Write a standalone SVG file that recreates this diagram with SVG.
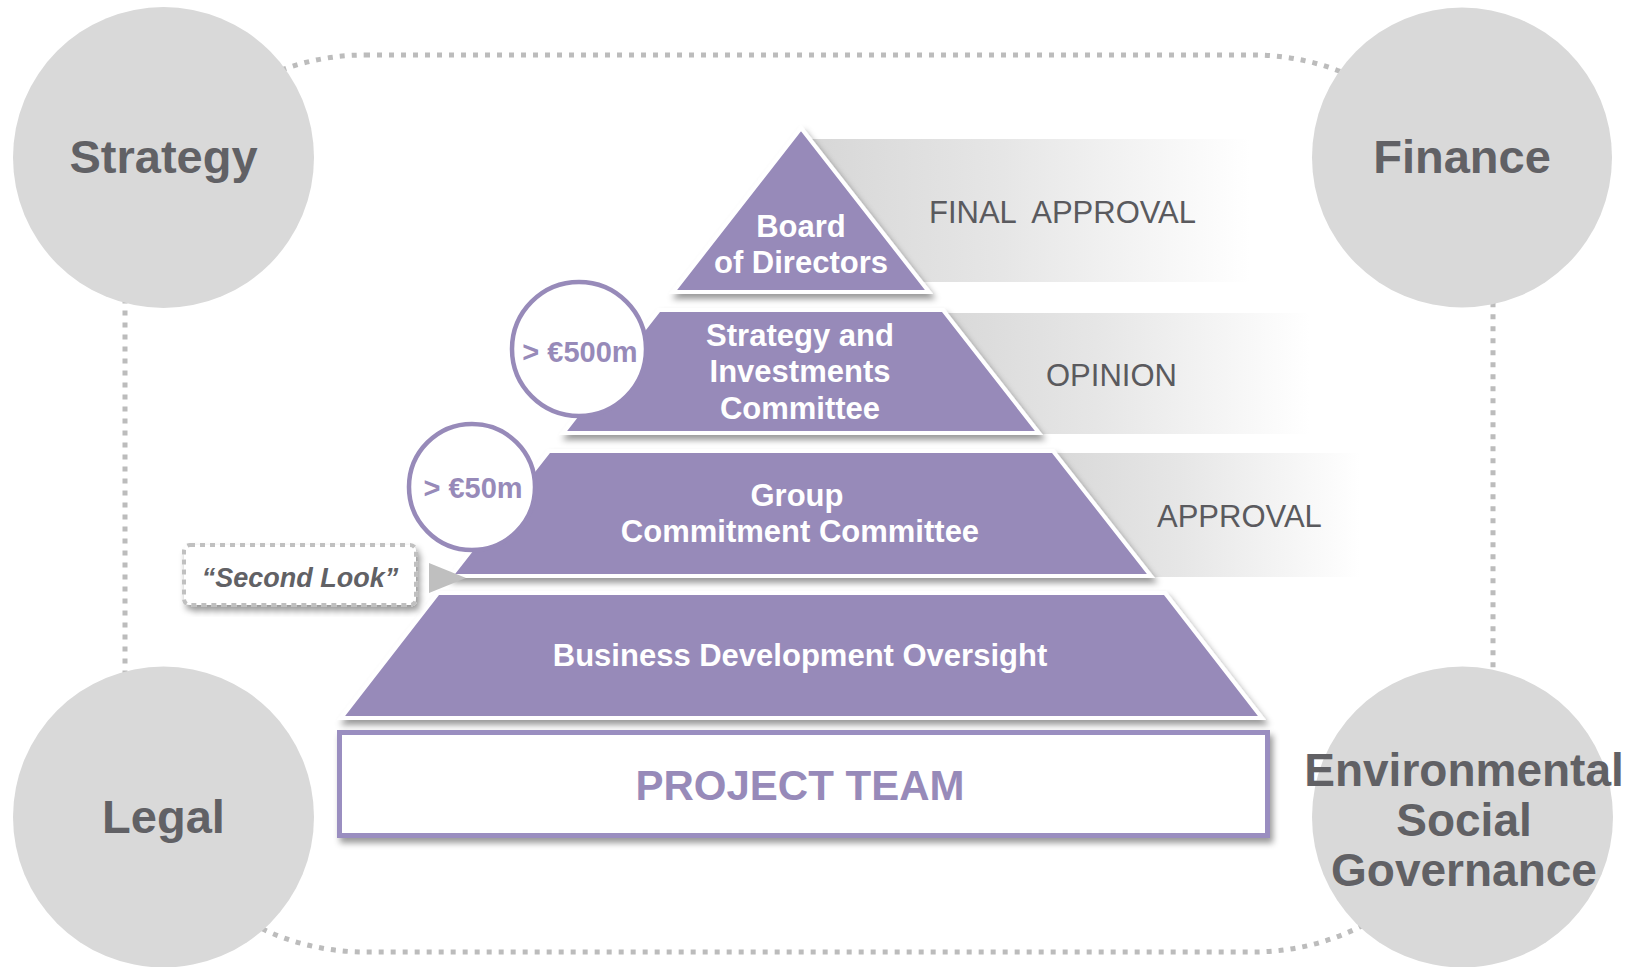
<svg xmlns="http://www.w3.org/2000/svg" width="1636" height="967" viewBox="0 0 1636 967">
<defs>
<style>
.frame{fill:none;stroke:#bcbcbc;stroke-width:5;stroke-dasharray:5 7}
.bigc{fill:#d9d9d9}
.bigt{font-family:"Liberation Sans",Arial,sans-serif;font-weight:bold;font-size:47px;fill:#616165;text-anchor:middle}
.esgt{font-family:"Liberation Sans",Arial,sans-serif;font-weight:bold;font-size:46px;fill:#616165;text-anchor:middle}
.layer{fill:#978ab9;stroke:#ffffff;stroke-width:4;stroke-linejoin:miter;filter:url(#sh)}
.lt{font-family:"Liberation Sans",Arial,sans-serif;font-weight:bold;font-size:31px;fill:#ffffff;text-anchor:middle}
.bt{font-family:"Liberation Sans",Arial,sans-serif;font-size:31px;fill:#5a5a5e}
.thr{fill:#ffffff;stroke:#978ab9;stroke-width:4.5}
.tht{font-family:"Liberation Sans",Arial,sans-serif;font-weight:bold;font-size:29px;fill:#978ab9;text-anchor:middle}
</style>
<linearGradient id="band" x1="0" y1="0" x2="1" y2="0">
<stop offset="0" stop-color="#d6d6d6"/>
<stop offset="0.45" stop-color="#e6e6e6"/>
<stop offset="1" stop-color="#ffffff"/>
</linearGradient>
<filter id="sh" x="-10%" y="-10%" width="120%" height="130%">
<feDropShadow dx="3" dy="5" stdDeviation="3" flood-color="#000000" flood-opacity="0.4"/>
</filter>
</defs>
<rect width="1636" height="967" fill="#ffffff"/>

<g id="frame">
<rect class="frame" x="125" y="55" width="1368" height="897" rx="240" ry="240"/>
</g>

<g id="strategy">
<circle class="bigc" cx="163.5" cy="157.5" r="150.5"/>
<text class="bigt" x="163.5" y="173">Strategy</text>
</g>
<g id="finance">
<circle class="bigc" cx="1462" cy="157.5" r="150"/>
<text class="bigt" x="1462" y="173">Finance</text>
</g>
<g id="legal">
<circle class="bigc" cx="163.5" cy="817" r="150.5"/>
<text class="bigt" x="163.5" y="833">Legal</text>
</g>
<g id="esg">
<circle class="bigc" cx="1462.5" cy="817" r="150.5"/>
<text class="esgt" x="1464" y="786">Environmental</text>
<text class="esgt" x="1464" y="836">Social</text>
<text class="esgt" x="1464" y="886">Governance</text>
</g>

<g id="band-final">
<rect x="800" y="139" width="450" height="143" fill="url(#band)"/>
<text class="bt" x="929" y="223" xml:space="preserve">FINAL  APPROVAL</text>
</g>
<g id="band-opinion">
<rect x="920" y="313" width="390" height="121" fill="url(#band)"/>
<text class="bt" x="1046" y="386">OPINION</text>
</g>
<g id="band-approval">
<rect x="1030" y="453" width="330" height="124" fill="url(#band)"/>
<text class="bt" x="1157" y="527">APPROVAL</text>
</g>

<g id="board">
<polygon class="layer" points="801,128 929,292 673,292"/>
<text class="lt" x="801" y="237">Board</text>
<text class="lt" x="801" y="273">of Directors</text>
</g>
<g id="sic">
<polygon class="layer" points="659,310 943,310 1039,433 563,433"/>
<text class="lt" x="800" y="346">Strategy and</text>
<text class="lt" x="800" y="382">Investments</text>
<text class="lt" x="800" y="419">Committee</text>
</g>
<g id="gcc">
<polygon class="layer" points="549,451 1053,451 1151,576 451,576"/>
<text class="lt" x="797" y="506">Group</text>
<text class="lt" x="800" y="542">Commitment Committee</text>
</g>
<g id="bdo">
<polygon class="layer" points="438,593 1165,593 1262,718 341,718"/>
<text class="lt" x="800" y="666">Business Development Oversight</text>
</g>
<g id="project-team">
<rect x="339.5" y="732.5" width="928" height="103" fill="#ffffff" stroke="#9a8ec0" stroke-width="5" filter="url(#sh)"/>
<text x="800" y="800" font-family="Liberation Sans, Arial, sans-serif" font-weight="bold" font-size="42" fill="#978ab9" text-anchor="middle">PROJECT TEAM</text>
</g>

<g id="threshold-500">
<circle class="thr" cx="579" cy="349" r="67"/>
<text class="tht" x="580" y="362">&gt; €500m</text>
</g>
<g id="threshold-50">
<circle class="thr" cx="472" cy="487" r="63"/>
<text class="tht" x="473" y="498">&gt; €50m</text>
</g>

<g id="second-look">
<rect x="184" y="545" width="232" height="60" rx="6" ry="6" fill="#ffffff" stroke="#c0c0c0" stroke-width="4" stroke-dasharray="5 5" filter="url(#sh)"/>
<text x="300" y="587" font-family="Liberation Sans, Arial, sans-serif" font-weight="bold" font-style="italic" font-size="27" fill="#616165" text-anchor="middle">“Second Look”</text>
</g>

<g id="connectors">
<polygon points="429,563 466,578 429,593" fill="#bfbfbf"/>
</g>
</svg>
